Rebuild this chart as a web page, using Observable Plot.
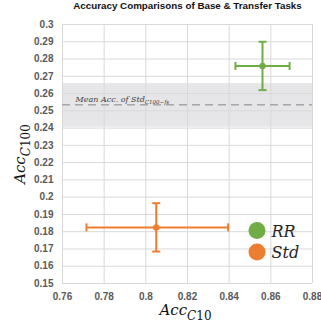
<!DOCTYPE html>
<html><head><meta charset="utf-8">
<script src="https://cdn.jsdelivr.net/npm/d3@7"></script>
<script src="https://cdn.jsdelivr.net/npm/@observablehq/plot@0.6"></script>
<style>body{margin:0;background:#fff} svg{display:block}</style>
</head><body><div id="chart"></div>
<script>
const series = ["RR", "Std"];
const colors = ["#70ad47", "#ed7d31"];
const accC10 = [0.856, 0.805];
const accC10Low = [0.843, 0.7715];
const accC10High = [0.869, 0.8395];
const accC100 = [0.276, 0.1825];
const accC100Low = [0.262, 0.1685];
const accC100High = [0.29, 0.1965];
const stdMean = [0.2535];
const stdBandLow = [0.2405];
const stdBandHigh = [0.2658];
const xTicks = [0.76, 0.78, 0.80, 0.82, 0.84, 0.86, 0.88];
const xTickLabels = ["0.76", "0.78", "0.8", "0.82", "0.84", "0.86", "0.88"];
const yTicks = [0.15, 0.16, 0.17, 0.18, 0.19, 0.20, 0.21, 0.22, 0.23, 0.24, 0.25, 0.26, 0.27, 0.28, 0.29, 0.30];
const yTickLabels = ["0.15", "0.16", "0.17", "0.18", "0.19", "0.2", "0.21", "0.22", "0.23", "0.24", "0.25", "0.26", "0.27", "0.28", "0.29", "0.3"];
const title = "Accuracy Comparisons of Base & Transfer Tasks";
const meanLabel = "Mean Acc. of Std";
const meanSub = "C100−fs";
const xTitle = "Acc", xTitleSub = ["C", "10"];
const yTitle = "Acc", yTitleSub = ["C", "100"];

const rows = series.map((s, i) => ({
  s, x: accC10[i], y: accC100[i],
  x1: accC10Low[i], x2: accC10High[i],
  y1: accC100Low[i], y2: accC100High[i]
}));
const band = stdMean.map((m, i) => ({m, lo: stdBandLow[i], hi: stdBandHigh[i]}));

const hcap = {draw(ctx, size) { const r = Math.sqrt(size / Math.PI); ctx.moveTo(-r, 0); ctx.lineTo(r, 0); }};
const vcap = {draw(ctx, size) { const r = Math.sqrt(size / Math.PI); ctx.moveTo(0, -r); ctx.lineTo(0, r); }};

const serif = "DejaVu Serif, serif";
const legendDy = [-53, -31.5];

const plot = Plot.plot({
  width: 321, height: 325,
  marginLeft: 62, marginRight: 9, marginTop: 24, marginBottom: 42,
  style: {fontFamily: "Liberation Sans, Arial, sans-serif", fontSize: "10px", background: "#fff"},
  x: {domain: [xTicks[0], xTicks[xTicks.length - 1]], label: null},
  y: {domain: [yTicks[0], yTicks[yTicks.length - 1]], label: null},
  color: {domain: series, range: colors},
  marks: [
    Plot.rect(band, {y1: "lo", y2: "hi", fill: "#e6e5e7"}),
    Plot.gridX(xTicks, {stroke: "#d9d9d9", strokeOpacity: 1}),
    Plot.gridY(yTicks, {stroke: "#d9d9d9", strokeOpacity: 1}),
    Plot.ruleY(band, {y: "m", stroke: "#a6a6a6", strokeWidth: 1.6, strokeDasharray: "8,5"}),
    Plot.text(band, {y: "m", text: () => meanLabel, frameAnchor: "left", dx: 13, dy: -5, textAnchor: "start",
      fontFamily: serif, fontStyle: "italic", fontSize: 8, fill: "#404040", className: "ann"}),
    Plot.axisX(xTicks, {tickSize: 0, tickPadding: 9, label: null, tickFormat: d => xTickLabels[xTicks.indexOf(d)],
      fontWeight: "bold", fill: "#595959", fontSize: 10}),
    Plot.axisY(yTicks, {tickSize: 0, tickPadding: 9, label: null, tickFormat: d => yTickLabels[yTicks.indexOf(d)],
      fontWeight: "bold", fill: "#595959", fontSize: 10}),
    Plot.link(rows, {x1: "x1", x2: "x2", y1: "y", y2: "y", stroke: "s", strokeWidth: 2}),
    Plot.link(rows, {x1: "x", x2: "x", y1: "y1", y2: "y2", stroke: "s", strokeWidth: 2}),
    Plot.dot(rows, {x: "x", y: "y1", symbol: hcap, r: 4, stroke: "s", fill: "none", strokeWidth: 2}),
    Plot.dot(rows, {x: "x", y: "y2", symbol: hcap, r: 4, stroke: "s", fill: "none", strokeWidth: 2}),
    Plot.dot(rows, {x: "x1", y: "y", symbol: vcap, r: 4, stroke: "s", fill: "none", strokeWidth: 2}),
    Plot.dot(rows, {x: "x2", y: "y", symbol: vcap, r: 4, stroke: "s", fill: "none", strokeWidth: 2}),
    Plot.dot(rows, {x: "x", y: "y", r: 3.2, fill: "s", stroke: null}),
    ...series.map((s, i) => Plot.dot([s], {frameAnchor: "bottom-right", dx: -55.5, dy: legendDy[i], r: 8.5, fill: d => d})),
    ...series.map((s, i) => Plot.text([s], {text: d => d, frameAnchor: "bottom-right", dx: -41, dy: legendDy[i] + 1,
      textAnchor: "start", lineAnchor: "middle", fontFamily: serif, fontStyle: "italic", fontSize: 16, fill: "#262626"})),
    Plot.text([title], {text: d => d, frameAnchor: "top", dy: -19, lineAnchor: "middle", fontWeight: "bold", fontSize: 9.8, fill: "#111"}),
    Plot.text([xTitle], {text: d => d, frameAnchor: "bottom", dx: -2, dy: 26.5, textAnchor: "middle", lineAnchor: "middle",
      fontFamily: serif, fontStyle: "italic", fontSize: 15, fill: "#111", className: "xtitle"}),
    Plot.text([yTitle], {text: d => d, frameAnchor: "left", dx: -42, rotate: -90, textAnchor: "middle", lineAnchor: "middle",
      fontFamily: serif, fontStyle: "italic", fontSize: 15, fill: "#111", className: "ytitle"})
  ]
});

const svg = d3.select(plot);
function addSub(sel, parts, size, shift) {
  const t = svg.selectAll(sel + " text");
  t.append("tspan").attr("dy", shift).attr("font-size", size).attr("font-style", "italic").text(parts[0]);
  t.append("tspan").attr("font-size", size).attr("font-style", "normal").text(parts[1]);
}
addSub(".xtitle", xTitleSub, 12, 5);
addSub(".ytitle", yTitleSub, 12, 5);
svg.selectAll(".ann text").append("tspan").attr("dy", 2).attr("font-size", 5.5).text(meanSub);

document.getElementById("chart").appendChild(plot);
</script>
</body></html>
